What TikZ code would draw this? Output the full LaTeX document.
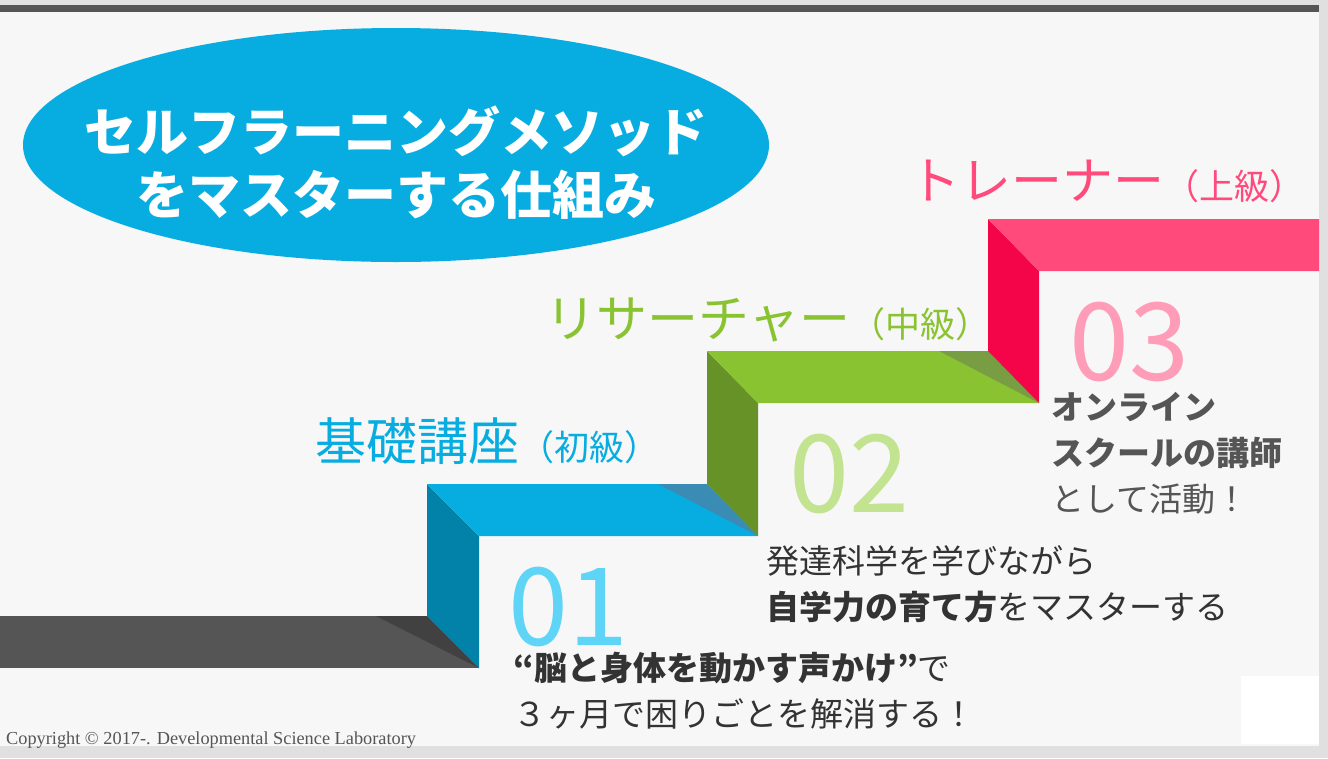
\documentclass[tikz,border=0pt]{standalone}
\usepackage{fontspec}
\setmainfont{Liberation Serif}
\newfontfamily\jpfont{Noto Sans CJK JP}
\usetikzlibrary{shapes.geometric, positioning}

\definecolor{framegray}{HTML}{E0E0E0}
\definecolor{pagebg}{HTML}{F7F7F7}
\definecolor{bardark}{HTML}{555555}
\definecolor{barshadow}{HTML}{414141}
\definecolor{bluetop}{HTML}{07ADE0}
\definecolor{bluefront}{HTML}{0382A9}
\definecolor{blueshadow}{HTML}{3A8CB4}
\definecolor{greentop}{HTML}{8AC332}
\definecolor{greenfront}{HTML}{679227}
\definecolor{greenshadow}{HTML}{789D43}
\definecolor{pinktop}{HTML}{FF4A7B}
\definecolor{redfront}{HTML}{F4054A}
\definecolor{numblue}{HTML}{5ED4F7}
\definecolor{numgreen}{HTML}{C2E38F}
\definecolor{numpink}{HTML}{FF9DB8}
\definecolor{bodygray}{HTML}{333333}
\definecolor{copygray}{HTML}{555555}

\begin{document}
\begin{tikzpicture}[x=1pt, y=-1pt,
    badge/.style={ellipse, fill=bluetop, minimum width=746pt, minimum height=234pt, inner sep=0pt},
    title/.style={font=\jpfont\bfseries\fontsize{52}{63}\selectfont, text=white, align=center, inner sep=0pt},
    level/.style={font=\jpfont\fontsize{51}{60}\selectfont, inner sep=0pt, anchor=base west},
    grade/.style={font=\fontsize{35}{35}\selectfont},
    num/.style={font=\jpfont\fontsize{108}{108}\selectfont, inner sep=0pt, anchor=base west},
    body/.style={font=\jpfont\fontsize{33}{46}\selectfont, text=bodygray, align=left, inner sep=0pt, anchor=north west}
]
    \useasboundingbox (0,0) rectangle (1328,758);

    % page
    \fill[framegray] (0,0) rectangle (1328,758);
    \fill[pagebg] (0,5) rectangle (1319,746);
    \fill[bardark] (0,5) rectangle (1319,12);
    \fill[white] (1241,676) rectangle (1319,744);

    % title
    \node[badge] (badge) at (396,145) {};
    \node[title] (title) at (396,163) {セルフラーニングメソッド\\をマスターする仕組み};

    % floor and steps
    \fill[bardark] (0,616) rectangle (479,668);
    \fill[barshadow] (376,616) -- (427,616) -- (479,668) -- cycle;
    \fill[bluefront] (427,484) -- (479,536) -- (479,668) -- (427,616) -- cycle;
    \fill[bluetop] (427,484) -- (707,484) -- (758,536) -- (479,536) -- cycle;
    \fill[blueshadow] (658,484) -- (707,484) -- (758,536) -- cycle;
    \fill[greenfront] (707,351) -- (758,403) -- (758,536) -- (707,484) -- cycle;
    \fill[greentop] (707,351) -- (988,351) -- (1039,403) -- (758,403) -- cycle;
    \fill[greenshadow] (939,351) -- (988,351) -- (1039,403) -- cycle;
    \fill[redfront] (988,219) -- (1039,271) -- (1039,403) -- (988,351) -- cycle;
    \fill[pinktop] (988,219) -- (1319,219) -- (1319,271) -- (1039,271) -- cycle;

    % levels
    \node[level, text=bluetop] (basic) at (315,460) {基礎講座{\fontsize{35}{35}\selectfont （初級）}};
    \node[level, text=greentop] (research) at (545,337) {リサーチャー{\fontsize{35}{35}\selectfont （中級）}};
    \node[level, text=pinktop] (trainer) at (909,199) {トレーナー{\fontsize{35}{35}\selectfont （上級）}};

    % numbers
    \node[num, text=numblue] (n1) at (508,645) {01};
    \node[num, text=numgreen] (n2) at (789,512) {02};
    \node[num, text=numpink] (n3) at (1069,380) {03};

    % descriptions
    \node[body] (d1) at (513,652) {{\bfseries “脳と身体を動かす声かけ”}で\\３ヶ月で困りごとを解消する！};
    \node[body] (d2) at (766,545) {発達科学を学びながら\\{\bfseries 自学力の育て方}をマスターする};
    \node[body, text=bardark] (d3) at (1051,392) {{\bfseries オンライン}\\{\bfseries スクールの講師}\\として活動！};

    \node[font=\fontsize{18.3}{18.3}\selectfont, text=copygray, anchor=base west, inner sep=0pt] (copy) at (6,744) {Copyright © 2017-. Developmental Science Laboratory};
\end{tikzpicture}
\end{document}
